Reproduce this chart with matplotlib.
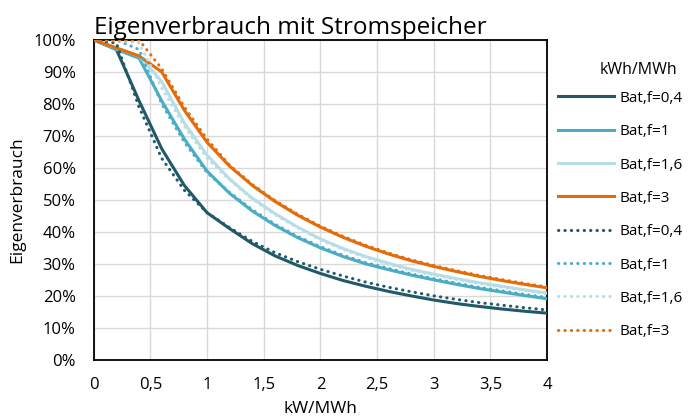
import numpy as np
import matplotlib
matplotlib.use("Agg")
import matplotlib.pyplot as plt

plt.rcParams['font.family'] = ['Open Sans', 'DejaVu Sans']

# x-Werte (kW/MWh)
x = [0, 0.2, 0.4, 0.6, 0.8, 1.0, 1.2, 1.4, 1.6, 1.8, 2.0,
     2.2, 2.4, 2.6, 2.8, 3.0, 3.2, 3.4, 3.6, 3.8, 4.0]

# Eigenverbrauch in %, durchgezogen
bat_04 = [100, 97, 81, 66, 54.5, 46, 41, 36.3, 32.5, 29.5, 27.0,
          24.8, 23.0, 21.4, 20.0, 18.7, 17.6, 16.7, 15.9, 15.2, 14.6]
bat_1 = [100, 97, 94.3, 81, 69, 59, 52, 46.5, 42, 38.2, 35,
         32.3, 30, 28.2, 26.5, 25, 23.6, 22.3, 21.2, 20.1, 19.1]
bat_16 = [100, 97.5, 95, 87, 74, 64, 56.5, 50.5, 45.7, 41.5, 37.8,
          34.8, 32.3, 30.2, 28.3, 26.8, 25.4, 24.1, 23, 21.9, 20.9]
bat_3 = [100, 97.5, 95, 90, 78, 68, 60.5, 54.5, 49.5, 45.2, 41.5,
         38.3, 35.5, 33.1, 31, 29.2, 27.6, 26.1, 24.8, 23.6, 22.5]

# gepunktet
bat_04_p = [100, 99, 79, 63, 53, 46, 41.3, 37, 33.5, 30.7, 28.3,
            26.2, 24.3, 22.7, 21.3, 20.0, 18.9, 17.9, 17.1, 16.3, 15.6]
bat_1_p = [100, 100, 97, 80, 68, 58.5, 52.3, 46.9, 42.4, 38.6, 35.4,
           32.7, 30.4, 28.6, 26.9, 25.4, 24, 22.7, 21.6, 20.5, 19.5]
bat_16_p = [100, 100, 99, 85, 73, 63, 56.2, 50.2, 45.4, 41.2, 37.5,
            34.5, 32, 29.9, 28, 26.5, 25.1, 23.8, 22.7, 21.6, 20.6]
bat_3_p = [100, 100, 100, 91, 79, 69, 60.8, 54.8, 49.8, 45.5, 41.8,
           38.6, 35.8, 33.4, 31.3, 29.5, 27.9, 26.4, 25.1, 23.9, 22.8]

labels = ["Bat,f=0,4", "Bat,f=1", "Bat,f=1,6", "Bat,f=3"]
farben = ["#215968", "#4BACC6", "#B7DEE8", "#E46C0A"]

fig = plt.figure(figsize=(6.89, 4.16), dpi=100)
ax = fig.add_axes([0.136, 0.135, 0.658, 0.769])

for werte, lab, c in zip([bat_04, bat_1, bat_16, bat_3], labels, farben):
    ax.plot(x, np.array(werte) / 100, color=c, lw=2.2, label=lab, zorder=3)
for werte, lab, c in zip([bat_04_p, bat_1_p, bat_16_p, bat_3_p], labels, farben):
    ax.plot(x, np.array(werte) / 100, color=c, lw=2.2, ls=(0, (0.1, 2.0)),
            dash_capstyle='round', label=lab, zorder=3)

ax.set_xlim(0, 4)
ax.set_ylim(0, 1)
ax.set_xticks(np.arange(0, 4.01, 0.5))
ax.set_xticklabels(["0", "0,5", "1", "1,5", "2", "2,5", "3", "3,5", "4"])
ax.set_yticks(np.arange(0, 1.01, 0.1))
ax.set_yticklabels([f"{i}%" for i in range(0, 101, 10)])
ax.tick_params(length=0, labelsize=12)
ax.tick_params(axis="y", pad=13)
ax.tick_params(axis="x", pad=12)
ax.grid(color="#D9D9D9", lw=1)
ax.set_axisbelow(True)
for s in ax.spines.values():
    s.set_color("black")
    s.set_linewidth(1.3)

ax.set_xlabel("kW/MWh", fontsize=12.5, labelpad=6)
ax.set_ylabel("Eigenverbrauch", fontsize=12.5, labelpad=6)
ax.set_title("Eigenverbrauch mit Stromspeicher", fontsize=17.5, loc="left", pad=3)

ax.legend(loc="upper left", bbox_to_anchor=(1.01, 0.86), frameon=False,
          fontsize=11, handlelength=3.7, handletextpad=0.35,
          labelspacing=1.2, borderaxespad=0)
fig.text(0.926, 0.832, "kWh/MWh", fontsize=11.5, ha="center", va="center")

fig.savefig("out.png", dpi=100)
